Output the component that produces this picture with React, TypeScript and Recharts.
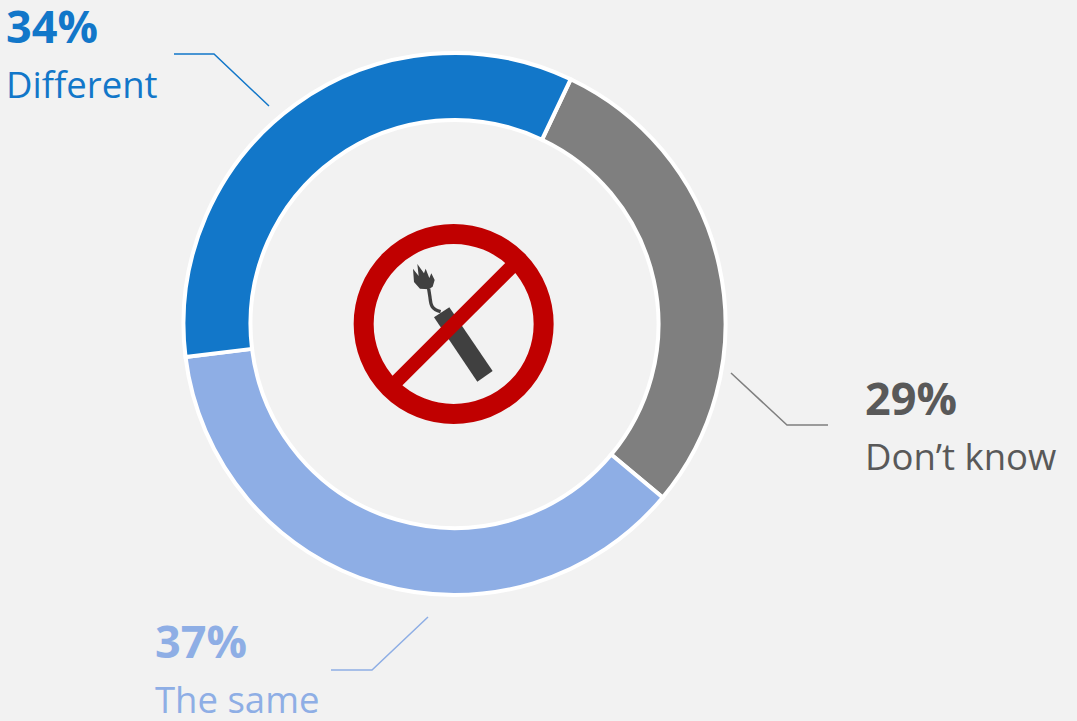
import { PieChart, Pie, Cell } from "recharts";

const categories = ["Don’t know", "The same", "Different"];
const shares = [29, 37, 34];
const sliceColors = ["#7f7f7f", "#8eaee5", "#1277c9"];
const textColors = ["#595959", "#8eaee5", "#1277c9"];

const pieData = categories.map((name, i) => ({ name, value: shares[i] }));

// label block position and leader line for each slice, same order as categories
const labelSpots = [
  { x: 865, y: 415, line: "M731,373 L787,425 L828,425" },
  { x: 155, y: 658, line: "M428,617 L372,670 L331,670" },
  { x: 6, y: 43, line: "M269,106 L214,54 L174,54" },
];

const FONT = "'Open Sans', sans-serif";

function NoDynamiteIcon() {
  // drawn in the 3x space of the icon crop, then scaled back down
  return (
    <g transform="translate(340 210) scale(0.3333)">
      <polygon points="282,322 328,292 458,483 412,515" fill="#404040" />
      <path d="M302,305 C272,298 272,280 270,262 L266,236" fill="none" stroke="#404040" strokeWidth={10} />
      <polygon
        points="266,238 240,236 222,216 219,176 236,198 232,162 252,190 257,176 268,204 274,190 284,210 278,230"
        fill="#404040"
      />
      <circle cx={341} cy={342} r={270} fill="none" stroke="#c00000" strokeWidth={60} />
      <polygon points="515,140 545,170 168,545 138,517" fill="#c00000" />
    </g>
  );
}

export default function App() {
  return (
    <div style={{ position: "absolute", left: 0, top: 0, width: 1077, height: 721, overflow: "hidden", background: "#f2f2f2" }}>
      <PieChart width={1077} height={721} margin={{ top: 0, right: 0, bottom: 0, left: 0 }}>
        <Pie
          data={pieData}
          dataKey="value"
          nameKey="name"
          cx={454.5}
          cy={324}
          innerRadius={204}
          outerRadius={271}
          startAngle={64.6}
          endAngle={-295.4}
          stroke="#ffffff"
          strokeWidth={4}
          isAnimationActive={false}
        >
          {pieData.map((entry, i) => (
            <Cell key={entry.name} fill={sliceColors[i]} />
          ))}
        </Pie>
        {labelSpots.map((spot, i) => (
          <g key={categories[i]} fontFamily={FONT} fill={textColors[i]}>
            <path d={spot.line} fill="none" stroke={sliceColors[i]} strokeWidth={1.5} />
            <text x={spot.x} y={spot.y} fontSize={45} fontWeight={700}>
              {shares[i]}%
            </text>
            <text x={spot.x} y={spot.y + 55} fontSize={36.5}>
              {categories[i]}
            </text>
          </g>
        ))}
        <NoDynamiteIcon />
      </PieChart>
    </div>
  );
}
